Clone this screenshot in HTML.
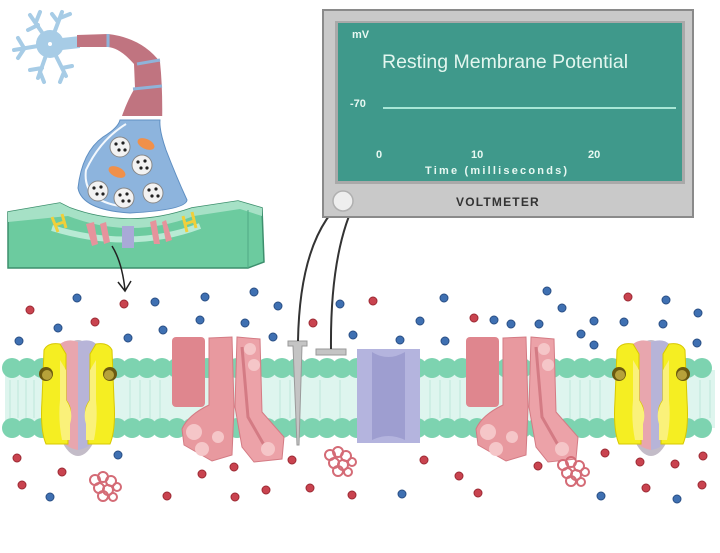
<!DOCTYPE html>
<html><head><meta charset="utf-8"><style>
html,body{margin:0;padding:0;background:#fff;}
svg{display:block;}
</style></head><body>
<svg width="720" height="553" viewBox="0 0 720 553" xmlns="http://www.w3.org/2000/svg" font-family="Liberation Sans, sans-serif">
<defs>
  <g id="pump">
    <ellipse cx="40" cy="58" rx="24" ry="58" fill="#c3bcc8"/>
    <path d="M22,4 Q30,-2 40,2 L40,110 Q28,108 22,98 Z" fill="#e8a6ae"/>
    <path d="M40,2 Q52,-2 58,4 L58,98 Q52,108 40,110 Z" fill="#b7b4d8"/>
    <path d="M6,10 Q10,2 22,4 L28,14 L28,60 Q36,70 30,82 L30,104 L8,104 Q2,90 4,60 Z" fill="#f5ee22" stroke="#d8c800" stroke-width="1"/>
    <path d="M22,20 L28,30 L28,60 Q36,72 32,84 L32,100 L24,100 Q20,80 22,60 Z" fill="#faf17a"/>
    <path d="M74,10 Q70,2 58,4 L52,14 L52,60 Q44,70 50,82 L50,104 L72,104 Q78,90 76,60 Z" fill="#f5ee22" stroke="#d8c800" stroke-width="1"/>
    <path d="M58,20 L52,30 L52,60 Q44,72 48,84 L48,100 L56,100 Q60,80 58,60 Z" fill="#faf17a"/>
    <circle cx="8" cy="34" r="7" fill="#6b5a10"/><circle cx="9" cy="35" r="5" fill="#b6a23a"/>
    <circle cx="72" cy="34" r="7" fill="#6b5a10"/><circle cx="71" cy="35" r="5" fill="#b6a23a"/>
  </g>
  <g id="chan">
    <rect x="0" y="0" width="33" height="70" rx="4" fill="#df868e"/>
    <path d="M37,1 L60,0 L62,70 L60,118 L40,124 L12,108 L10,92 Q16,78 37,68 Z" fill="#e8999f" stroke="#d47b84" stroke-width="1"/>
    <circle cx="22" cy="95" r="8" fill="#f5c6c8"/><circle cx="30" cy="112" r="7" fill="#f5c6c8"/><circle cx="46" cy="100" r="6" fill="#f5c6c8"/>
    <path d="M65,0 L88,2 L90,75 L112,100 L110,122 L82,125 L70,110 L63,70 Z" fill="#eca2a8" stroke="#d47b84" stroke-width="1"/>
    <path d="M70,10 L76,80 L92,108" fill="none" stroke="#d47b84" stroke-width="3"/>
    <circle cx="78" cy="12" r="6" fill="#f5c6c8"/><circle cx="82" cy="28" r="6" fill="#f5c6c8"/><circle cx="96" cy="112" r="7" fill="#f5c6c8"/>
  </g>
  <g id="prot" fill="none" stroke="#d46b76" stroke-width="2">
    <circle cx="0" cy="0" r="5"/><circle cx="8" cy="-3" r="5"/><circle cx="16" cy="1" r="5"/><circle cx="4" cy="8" r="5"/><circle cx="13" cy="10" r="5"/><circle cx="22" cy="7" r="4"/><circle cx="8" cy="16" r="5"/><circle cx="18" cy="17" r="4"/>
  </g>
  <g id="headrow" fill="#7dd3b0">
    <circle cx="12" cy="0" r="10"/><circle cx="27" cy="0" r="10"/><circle cx="42" cy="0" r="10"/><circle cx="57" cy="0" r="10"/><circle cx="72" cy="0" r="10"/><circle cx="87" cy="0" r="10"/><circle cx="102" cy="0" r="10"/><circle cx="117" cy="0" r="10"/><circle cx="132" cy="0" r="10"/><circle cx="147" cy="0" r="10"/><circle cx="162" cy="0" r="10"/><circle cx="177" cy="0" r="10"/><circle cx="192" cy="0" r="10"/><circle cx="207" cy="0" r="10"/><circle cx="222" cy="0" r="10"/><circle cx="237" cy="0" r="10"/><circle cx="252" cy="0" r="10"/><circle cx="267" cy="0" r="10"/><circle cx="282" cy="0" r="10"/><circle cx="297" cy="0" r="10"/><circle cx="312" cy="0" r="10"/><circle cx="327" cy="0" r="10"/><circle cx="342" cy="0" r="10"/><circle cx="357" cy="0" r="10"/><circle cx="372" cy="0" r="10"/><circle cx="387" cy="0" r="10"/><circle cx="402" cy="0" r="10"/><circle cx="417" cy="0" r="10"/><circle cx="432" cy="0" r="10"/><circle cx="447" cy="0" r="10"/><circle cx="462" cy="0" r="10"/><circle cx="477" cy="0" r="10"/><circle cx="492" cy="0" r="10"/><circle cx="507" cy="0" r="10"/><circle cx="522" cy="0" r="10"/><circle cx="537" cy="0" r="10"/><circle cx="552" cy="0" r="10"/><circle cx="567" cy="0" r="10"/><circle cx="582" cy="0" r="10"/><circle cx="597" cy="0" r="10"/><circle cx="612" cy="0" r="10"/><circle cx="627" cy="0" r="10"/><circle cx="642" cy="0" r="10"/><circle cx="657" cy="0" r="10"/><circle cx="672" cy="0" r="10"/><circle cx="687" cy="0" r="10"/><circle cx="702" cy="0" r="10"/>
  </g>
</defs>

<!-- membrane -->
<rect x="5" y="370" width="710" height="58" fill="#def5ee"/>
<g stroke="#bfe8da" stroke-width="1">
<path d="M10,380 V418 M18,380 V418 M26,380 V418 M34,380 V418 M130,380 V418 M140,380 V418 M150,380 V418 M160,380 V418 M280,380 V418 M290,380 V418 M320,380 V418 M340,380 V418 M430,380 V418 M440,380 V418 M450,380 V418 M460,380 V418 M570,380 V418 M580,380 V418 M590,380 V418 M600,380 V418 M700,380 V418 M710,380 V418"/>
</g>
<use href="#headrow" x="0" y="368"/>
<use href="#headrow" x="0" y="428"/>

<use href="#pump" x="38" y="340"/>
<use href="#pump" x="611" y="340"/>
<use href="#chan" x="172" y="337"/>
<use href="#chan" x="466" y="337"/>
<!-- purple channel -->
<path d="M357,349 H420 V443 H357 Z" fill="#b4b4de"/>
<path d="M372,352 Q388,362 405,352 V440 Q388,432 372,440 Z" fill="#9e9ed0"/>
<use href="#prot" x="95" y="480"/>
<use href="#prot" x="330" y="455"/>
<use href="#prot" x="563" y="465"/>

<!-- electrodes -->
<path d="M288,341 H307 V346 H302 L299,445 H297 L293,346 H288 Z" fill="#c4c4c4" stroke="#9a9a9a" stroke-width="1"/>
<rect x="316" y="349" width="30" height="6" fill="#c4c4c4" stroke="#9a9a9a" stroke-width="1"/>
<path d="M350,195 Q300,230 298,341" fill="none" stroke="#333" stroke-width="2"/>
<path d="M357,198 Q330,250 331,349" fill="none" stroke="#333" stroke-width="2"/>

<!-- ions -->
<g fill="#c9434f" stroke="#9c2a34" stroke-width="1">
<circle cx="30" cy="310" r="4"/><circle cx="95" cy="322" r="4"/><circle cx="124" cy="304" r="4"/><circle cx="313" cy="323" r="4"/><circle cx="373" cy="301" r="4"/><circle cx="474" cy="318" r="4"/><circle cx="628" cy="297" r="4"/>
<circle cx="17" cy="458" r="4"/><circle cx="62" cy="472" r="4"/><circle cx="22" cy="485" r="4"/><circle cx="167" cy="496" r="4"/><circle cx="202" cy="474" r="4"/><circle cx="234" cy="467" r="4"/><circle cx="235" cy="497" r="4"/><circle cx="292" cy="460" r="4"/><circle cx="266" cy="490" r="4"/><circle cx="310" cy="488" r="4"/><circle cx="352" cy="495" r="4"/><circle cx="424" cy="460" r="4"/><circle cx="459" cy="476" r="4"/><circle cx="478" cy="493" r="4"/><circle cx="538" cy="466" r="4"/><circle cx="605" cy="453" r="4"/><circle cx="640" cy="462" r="4"/><circle cx="646" cy="488" r="4"/><circle cx="675" cy="464" r="4"/><circle cx="703" cy="456" r="4"/><circle cx="702" cy="485" r="4"/>
</g>
<g fill="#3f70b2" stroke="#2a4f85" stroke-width="1">
<circle cx="77" cy="298" r="4"/><circle cx="58" cy="328" r="4"/><circle cx="19" cy="341" r="4"/><circle cx="128" cy="338" r="4"/><circle cx="155" cy="302" r="4"/><circle cx="163" cy="330" r="4"/><circle cx="205" cy="297" r="4"/><circle cx="200" cy="320" r="4"/><circle cx="245" cy="323" r="4"/><circle cx="254" cy="292" r="4"/><circle cx="278" cy="306" r="4"/><circle cx="273" cy="337" r="4"/><circle cx="340" cy="304" r="4"/><circle cx="353" cy="335" r="4"/><circle cx="400" cy="340" r="4"/><circle cx="420" cy="321" r="4"/><circle cx="445" cy="341" r="4"/><circle cx="444" cy="298" r="4"/><circle cx="494" cy="320" r="4"/><circle cx="511" cy="324" r="4"/><circle cx="547" cy="291" r="4"/><circle cx="539" cy="324" r="4"/><circle cx="562" cy="308" r="4"/><circle cx="581" cy="334" r="4"/><circle cx="594" cy="321" r="4"/><circle cx="624" cy="322" r="4"/><circle cx="666" cy="300" r="4"/><circle cx="663" cy="324" r="4"/><circle cx="698" cy="313" r="4"/><circle cx="697" cy="343" r="4"/><circle cx="594" cy="345" r="4"/>
<circle cx="118" cy="455" r="4"/><circle cx="50" cy="497" r="4"/><circle cx="402" cy="494" r="4"/><circle cx="601" cy="496" r="4"/><circle cx="677" cy="499" r="4"/>
</g>

<!-- voltmeter -->
<rect x="323" y="10" width="370" height="207" fill="#c9c9c9" stroke="#8a8a8a" stroke-width="2"/>
<rect x="335" y="21" width="350" height="163" fill="#a9a9a9"/>
<rect x="338" y="23" width="344" height="158" fill="#3f998b"/>
<line x1="383" y1="108" x2="676" y2="108" stroke="#a8e6d6" stroke-width="2"/>
<text x="352" y="38" font-size="11" font-weight="bold" fill="#e8f8f2">mV</text>
<text x="382" y="68" font-size="19.5" fill="#e3f6ef">Resting Membrane Potential</text>
<text x="350" y="107" font-size="11" font-weight="bold" fill="#e8f8f2">-70</text>
<text x="376" y="158" font-size="11" font-weight="bold" fill="#e8f8f2">0</text>
<text x="471" y="158" font-size="11" font-weight="bold" fill="#e8f8f2">10</text>
<text x="588" y="158" font-size="11" font-weight="bold" fill="#e8f8f2">20</text>
<text x="425" y="174" font-size="11" font-weight="bold" fill="#e8f8f2" letter-spacing="2.2">Time (milliseconds)</text>
<text x="456" y="206" font-size="12" font-weight="bold" fill="#333" letter-spacing="1.2">VOLTMETER</text>
<circle cx="343" cy="201" r="10" fill="#eeeeee" stroke="#b0b0b0" stroke-width="1.5"/>

<!-- neuron -->
<g stroke="#a7cce6" stroke-width="4" stroke-linecap="round" fill="none">
<path d="M50,44 L30,15 M38,25 L28,30 M36,22 L40,12 M50,44 L62,12 M58,22 L52,14 M60,18 L70,14 M50,44 L14,50 M24,48 L18,38 M24,49 L18,58 M50,44 L38,78 M42,68 L30,70 M40,72 L44,82 M50,44 L66,76 M62,68 L72,66 M64,72 L60,82"/>
</g>
<circle cx="50" cy="44" r="14" fill="#a7cce6"/>
<circle cx="50" cy="44" r="2" fill="#fff"/>
<path d="M62,38 L80,36 V48 L62,50 Z" fill="#a7cce6"/>
<path d="M77,35 L108,34 Q142,38 160,62 Q163,90 162,128 L118,128 Q126,102 135,88 L134,64 Q120,48 108,47 L77,47 Z" fill="#c07480"/>
<path d="M108,34 L108,47 M137,64 L160,60 M133,89 L162,86" stroke="#8fb3d9" stroke-width="3" fill="none"/>
<!-- green tissue -->
<path d="M8,212 L60,203 L70,208 Q130,230 192,208 L238,201 L262,208 L264,262 L248,268 L8,268 Z" fill="#6ccb9f" stroke="#3d8f6d" stroke-width="1.5"/>
<path d="M8,212 L60,203 L70,208 Q130,230 192,208 L238,201 L262,208 L262,216 L240,209 L194,216 Q130,240 68,216 L8,222 Z" fill="#a6e1c6"/>
<path d="M248,210 L248,268" stroke="#4fa884" stroke-width="1"/>
<path d="M52,228 Q130,252 200,226" stroke="#b8ead4" stroke-width="6" fill="none"/>
<g stroke="#f0cf3a" stroke-width="3" fill="none"><path d="M52,217 L58,232 M62,214 L66,228 M55,225 L64,222 M183,216 L187,232 M192,212 L196,228 M185,224 L194,221"/></g>
<path d="M86,224 L92,246 L98,244 L94,222 Z M100,224 L104,244 L110,242 L106,222 Z" fill="#e6939c"/>
<path d="M150,222 L154,244 L160,244 L156,220 Z M162,222 L166,242 L172,240 L166,220 Z" fill="#e6939c"/>
<rect x="122" y="226" width="12" height="22" fill="#a9a9d8"/>
<!-- bulb -->
<path d="M118,116 Q116,125 100,134 Q78,150 73,190 Q75,214 130,218 Q192,214 192,200 Q180,176 170,150 Q162,130 164,116 Z" fill="#fff"/>
<path d="M120,120 Q118,128 103,137 Q82,152 78,188 Q82,210 130,213 Q186,210 187,200 Q176,176 166,150 Q159,130 160,120 Z" fill="#8db4dd" stroke="#5f8fc2" stroke-width="1"/>
<path d="M126,124 Q100,140 86,170 Q82,200 120,206" fill="none" stroke="#f3f8fd" stroke-width="2"/>
<g fill="#f2f2f2" stroke="#888" stroke-width="1">
<circle cx="120" cy="147" r="10"/><circle cx="142" cy="165" r="10"/><circle cx="98" cy="191" r="10"/><circle cx="124" cy="198" r="10"/><circle cx="153" cy="193" r="10"/>
</g>
<g fill="#222">
<circle cx="116" cy="144" r="1.6"/><circle cx="123" cy="143" r="1.6"/><circle cx="119" cy="150" r="1.6"/><circle cx="125" cy="150" r="1.6"/>
<circle cx="138" cy="162" r="1.6"/><circle cx="145" cy="161" r="1.6"/><circle cx="141" cy="168" r="1.6"/><circle cx="147" cy="168" r="1.6"/>
<circle cx="94" cy="188" r="1.6"/><circle cx="101" cy="187" r="1.6"/><circle cx="97" cy="194" r="1.6"/><circle cx="103" cy="194" r="1.6"/>
<circle cx="120" cy="195" r="1.6"/><circle cx="127" cy="194" r="1.6"/><circle cx="123" cy="201" r="1.6"/><circle cx="129" cy="201" r="1.6"/>
<circle cx="149" cy="190" r="1.6"/><circle cx="156" cy="189" r="1.6"/><circle cx="152" cy="196" r="1.6"/><circle cx="158" cy="196" r="1.6"/>
</g>
<ellipse cx="146" cy="144" rx="9" ry="5" transform="rotate(25 146 144)" fill="#f0904a"/>
<ellipse cx="117" cy="172" rx="9" ry="5" transform="rotate(25 117 172)" fill="#f0904a"/>
<!-- arrow -->
<path d="M112,246 Q122,262 125,290" fill="none" stroke="#222" stroke-width="1.5"/>
<path d="M118,282 L125,291 L131,281" fill="none" stroke="#222" stroke-width="1.5"/>
</svg>
</body></html>
